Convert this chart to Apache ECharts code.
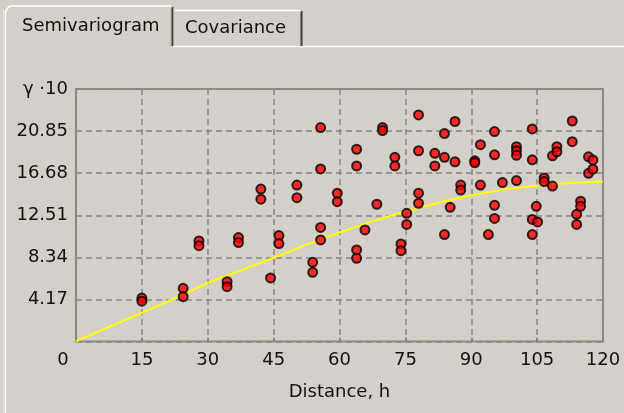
<!DOCTYPE html>
<html>
<head>
<meta charset="utf-8">
<script src="https://cdn.jsdelivr.net/npm/echarts@6/dist/echarts.min.js"></script>
<style>
  html, body { margin: 0; padding: 0; background: #d4d0c8; }
  #chart { width: 624px; height: 413px; }
</style>
</head>
<body>
<div id="chart"></div>
<script>
// Experimental semivariogram: lag distance h and semivariance gamma (units of 10)
const lagDistance = [
  15, 15, 24.4, 24.4, 28.0, 28.0, 34.4, 34.4, 37.0, 37.0,
  42.1, 42.1, 44.3, 46.2, 46.2, 50.3, 50.3, 53.9, 53.9,
  55.7, 55.7, 55.7, 55.7, 59.5, 59.5,
  63.9, 63.9, 63.9, 63.9, 65.8, 68.5, 69.8, 69.8, 72.6, 72.6,
  74.0, 74.0, 75.3, 75.3, 78.0, 78.0, 78.0, 78.0,
  81.7, 81.7, 83.9, 83.9, 83.9, 85.2, 86.3, 86.3, 87.6, 87.6,
  90.8, 90.8, 92.1, 92.1, 93.9, 95.3, 95.3, 95.3, 95.3, 97.1,
  100.3, 100.3, 100.3, 100.3, 103.9, 103.9, 103.9, 103.9, 104.8, 105.1,
  106.6, 106.6, 108.5, 108.5, 109.5, 109.5, 113.0, 113.0,
  114.0, 114.0, 114.9, 114.9, 116.7, 116.7, 117.7, 117.7
];
const semivariance = [
  4.3, 4.0, 5.27, 4.44, 9.96, 9.5, 5.93, 5.43, 10.3, 9.8,
  15.1, 14.1, 6.3, 10.5, 9.7, 15.5, 14.25, 7.85, 6.86,
  21.2, 17.1, 11.3, 10.06, 14.7, 13.85,
  19.05, 17.4, 9.07, 8.25, 11.05, 13.6, 21.2, 20.9, 18.25, 17.4,
  9.66, 9.0, 12.7, 11.6, 22.45, 18.9, 14.7, 13.7,
  18.65, 17.4, 20.6, 18.25, 10.6, 13.3, 21.8, 17.8, 15.5, 15.0,
  17.9, 17.7, 19.5, 15.5, 10.6, 20.8, 18.5, 13.5, 12.2, 15.75,
  19.3, 18.9, 18.45, 15.95, 21.06, 18.0, 12.1, 10.6, 13.4, 11.85,
  16.2, 15.85, 18.4, 15.4, 19.3, 18.8, 21.85, 19.8,
  12.6, 11.6, 13.9, 13.4, 18.3, 16.67, 17.99, 17.07
];

// Fitted model curve
const modelDistance = [0, 7.5, 15, 22.5, 30, 37.5, 45, 52.5, 60, 67.5, 75, 82.5, 90, 97.5, 105, 112.5, 120];
const modelGamma    = [0, 1.45, 2.85, 4.3, 5.8, 7.05, 8.3, 9.6, 10.8, 11.9, 12.9, 13.75, 14.5, 15.05, 15.45, 15.7, 15.85];

// Axis ticks
const xTicks = { min: 0, max: 120, step: 15 };
const yTicks = { min: 0, max: 25.02, step: 4.17 };
const yTopLabel = 'γ ·10';
const xAxisTitle = 'Distance, h';
const tabTitles = ['Semivariogram', 'Covariance'];

const FONT = 'DejaVu Sans';
const TEXT = '#111';

const pts = lagDistance.map((h, i) => [h, semivariance[i]]);
const model = modelDistance.map((h, i) => [h, modelGamma[i]]);

const chart = echarts.init(document.getElementById('chart'), null, { renderer: 'canvas' });

// Tab strip drawn as window-style bevel lines
const white = '#ffffff', dark = '#404040', shade = '#808080';
const tabGraphics = [
  // panel top edge (right of the active tab)
  { type: 'line', shape: { x1: 173, y1: 46.5, x2: 624, y2: 46.5 }, style: { stroke: white, lineWidth: 1.5 } },
  // panel left edge
  { type: 'line', shape: { x1: 5.5, y1: 10, x2: 5.5, y2: 413 }, style: { stroke: white, lineWidth: 1.5 } },
  { type: 'line', shape: { x1: 3.5, y1: 10, x2: 3.5, y2: 413 }, style: { stroke: '#e6e3dd', lineWidth: 1 } },
  // inactive tab
  { type: 'line', shape: { x1: 175, y1: 10.5, x2: 300, y2: 10.5 }, style: { stroke: white, lineWidth: 1.5 } },
  { type: 'line', shape: { x1: 300.5, y1: 12, x2: 300.5, y2: 46 }, style: { stroke: shade, lineWidth: 1 } },
  { type: 'line', shape: { x1: 301.8, y1: 11, x2: 301.8, y2: 46 }, style: { stroke: dark, lineWidth: 1.5 } },
  // active tab
  { type: 'polyline', shape: { points: [[5.5, 12], [8, 7.5], [10.5, 6]] }, style: { stroke: white, lineWidth: 1.5, fill: null } },
  { type: 'line', shape: { x1: 10, y1: 6, x2: 171, y2: 6 }, style: { stroke: white, lineWidth: 1.5 } },
  { type: 'line', shape: { x1: 171.3, y1: 8, x2: 171.3, y2: 46 }, style: { stroke: shade, lineWidth: 1 } },
  { type: 'line', shape: { x1: 172.6, y1: 7, x2: 172.6, y2: 46 }, style: { stroke: dark, lineWidth: 1.5 } },
  { type: 'text', left: 22, top: 17, style: { text: tabTitles[0], font: '18px "' + FONT + '"', fill: TEXT } },
  { type: 'text', left: 185, top: 19, style: { text: tabTitles[1], font: '18px "' + FONT + '"', fill: TEXT } }
];

chart.setOption({
  animation: false,
  backgroundColor: '#d4d0c8',
  textStyle: { fontFamily: FONT },
  graphic: tabGraphics,
  grid: {
    left: 76, right: 21, top: 89, bottom: 71.5,
    show: true, borderColor: '#8c8c8c', borderWidth: 2, backgroundColor: 'transparent'
  },
  xAxis: {
    type: 'value',
    min: xTicks.min, max: xTicks.max, interval: xTicks.step,
    name: xAxisTitle, nameLocation: 'middle', nameGap: 42,
    nameTextStyle: { fontFamily: FONT, fontSize: 18, color: TEXT },
    axisLine: { show: false },
    axisTick: { show: true, inside: true, length: 4, lineStyle: { color: '#808080', width: 1.5 } },
    axisLabel: {
      fontFamily: FONT, fontSize: 18, color: TEXT, margin: 10,
      formatter: v => v === 0 ? '{z|0}' : String(v),
      rich: { z: { fontFamily: FONT, fontSize: 18, color: TEXT, padding: [0, 26, 0, 0] } }
    },
    splitLine: { show: true, lineStyle: { color: '#858585', width: 1.5, type: [6, 4] } }
  },
  yAxis: {
    type: 'value',
    min: yTicks.min, max: yTicks.max, interval: yTicks.step,
    axisLine: { show: false },
    axisTick: { show: false },
    axisLabel: {
      fontFamily: FONT, fontSize: 18, color: TEXT, margin: 8,
      formatter: v => {
        if (Math.abs(v) < 1e-9) return '';
        if (Math.abs(v - yTicks.max) < 1e-6) return yTopLabel;
        return v.toFixed(2);
      }
    },
    splitLine: { show: true, lineStyle: { color: '#858585', width: 1.5, type: [6, 4] } }
  },
  series: [
    {
      type: 'line', data: model, showSymbol: false, smooth: false, z: 2,
      lineStyle: { color: '#ffff00', width: 2 }
    },
    {
      type: 'scatter', data: pts, symbol: 'circle', symbolSize: 9, z: 3,
      itemStyle: { color: '#ff0000', borderColor: '#000000', borderWidth: 2 }
    }
  ]
});
</script>
</body>
</html>
